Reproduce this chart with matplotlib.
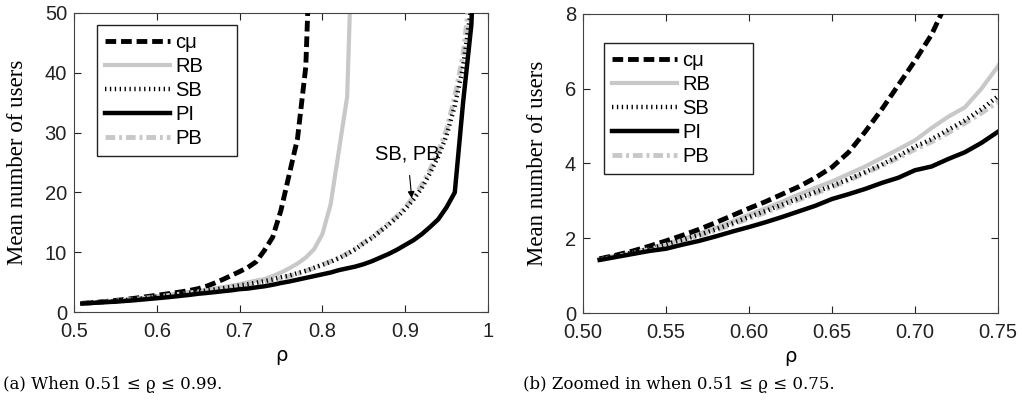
import numpy as np
import matplotlib
matplotlib.use("Agg")
import matplotlib.pyplot as plt
from matplotlib.font_manager import FontProperties

# load values, one point per 0.01 of rho
rho_cmu = [0.51, 0.52, 0.53, 0.54, 0.55, 0.56, 0.57, 0.58, 0.59, 0.60, 0.61, 0.62, 0.63, 0.64,
           0.65, 0.66, 0.67, 0.68, 0.69, 0.70, 0.71, 0.72, 0.73, 0.74, 0.75, 0.76, 0.77, 0.78, 0.79]
cmu = [1.45, 1.55, 1.66, 1.79, 1.93, 2.08, 2.24, 2.42, 2.61, 2.80, 2.98, 3.18, 3.38, 3.62,
       3.90, 4.30, 4.85, 5.45, 6.10, 6.75, 7.45, 8.4, 10.3, 12.5, 17.0, 23.0, 29.0, 41.0, 80.0]

rho_rb = [0.51, 0.52, 0.53, 0.54, 0.55, 0.56, 0.57, 0.58, 0.59, 0.60, 0.61, 0.62, 0.63, 0.64,
          0.65, 0.66, 0.67, 0.68, 0.69, 0.70, 0.71, 0.72, 0.73, 0.74, 0.75, 0.76, 0.77, 0.78,
          0.79, 0.80, 0.81, 0.82, 0.83, 0.84]
rb = [1.45, 1.53, 1.62, 1.73, 1.85, 1.98, 2.12, 2.28, 2.45, 2.63, 2.80, 2.98, 3.17, 3.35,
      3.52, 3.72, 3.92, 4.15, 4.38, 4.62, 4.95, 5.25, 5.5, 6.0, 6.6, 7.3, 8.1, 9.1,
      10.5, 13.0, 18.0, 27.0, 36.0, 80.0]

rho_all = [0.51, 0.52, 0.53, 0.54, 0.55, 0.56, 0.57, 0.58, 0.59, 0.60, 0.61, 0.62, 0.63, 0.64,
           0.65, 0.66, 0.67, 0.68, 0.69, 0.70, 0.71, 0.72, 0.73, 0.74, 0.75, 0.76, 0.77, 0.78,
           0.79, 0.80, 0.81, 0.82, 0.83, 0.84, 0.85, 0.86, 0.87, 0.88, 0.89, 0.90, 0.91, 0.92,
           0.93, 0.94, 0.95, 0.96, 0.97, 0.98, 0.99]
sb = [1.45, 1.53, 1.62, 1.72, 1.84, 1.96, 2.09, 2.24, 2.40, 2.57, 2.73, 2.90, 3.07, 3.24,
      3.40, 3.58, 3.77, 3.97, 4.20, 4.45, 4.65, 4.9, 5.15, 5.45, 5.8, 6.1, 6.5, 6.9,
      7.4, 7.9, 8.4, 9.0, 9.7, 10.5, 11.5, 12.4, 13.5, 14.6, 15.8, 17.2, 18.8, 20.7,
      23.2, 26.0, 29.5, 34.5, 41.0, 51.0, 70.0]
pi = [1.42, 1.50, 1.58, 1.66, 1.72, 1.83, 1.93, 2.05, 2.18, 2.30, 2.43, 2.57, 2.72, 2.87,
      3.05, 3.18, 3.32, 3.48, 3.62, 3.82, 3.92, 4.12, 4.3, 4.55, 4.85, 5.1, 5.4, 5.7,
      6.0, 6.3, 6.6, 7.0, 7.3, 7.6, 8.0, 8.5, 9.1, 9.7, 10.4, 11.2, 12.0, 13.0,
      14.2, 15.5, 17.5, 20.0, 35.0, 48.0, 80.0]
pb = [1.42, 1.51, 1.60, 1.70, 1.82, 1.94, 2.07, 2.21, 2.37, 2.53, 2.69, 2.86, 3.03, 3.20,
      3.37, 3.55, 3.74, 3.94, 4.15, 4.38, 4.58, 4.82, 5.08, 5.35, 5.65, 6.0, 6.4, 6.85,
      7.35, 7.9, 8.45, 9.05, 9.75, 10.6, 11.6, 12.5, 13.6, 14.8, 16.0, 17.5, 19.2, 21.2,
      23.8, 26.8, 30.5, 36.0, 43.0, 55.0, 75.0]

ticks_a = [0.5, 0.6, 0.7, 0.8, 0.9, 1.0]
ticklabels_a = ["0.5", "0.6", "0.7", "0.8", "0.9", "1"]
ticks_b = [0.50, 0.55, 0.60, 0.65, 0.70, 0.75]
ticklabels_b = ["0.50", "0.55", "0.60", "0.65", "0.70", "0.75"]

LIGHT = "#c8c8c8"
sans = FontProperties(family=["Liberation Sans", "DejaVu Sans"], size=14.5)
serif = FontProperties(family=["Liberation Serif", "DejaVu Serif"], size=16.5)
caption = FontProperties(family=["DejaVu Serif"], size=12)


def draw(ax, xlim, ylim, xticks, xticklabels, yticks, legend_box):
    ax.plot(rho_cmu, cmu, color="black", lw=3.5, dashes=(2.2, 1.0), label="c\u03bc", zorder=3)
    ax.plot(rho_rb, rb, color=LIGHT, lw=3.0, label="RB", zorder=2)
    ax.plot(rho_all, sb, color="black", lw=3.2, dashes=(0.3, 0.8), label="SB", zorder=5)
    ax.plot(rho_all, pi, color="black", lw=3.2, label="PI", zorder=4)
    ax.plot(rho_all, pb, color=LIGHT, lw=3.5, dashes=(2.0, 0.8, 0.6, 0.8), label="PB", zorder=3)

    ax.set_xlim(*xlim)
    ax.set_ylim(*ylim)
    ax.set_xticks(xticks)
    ax.set_xticklabels(xticklabels, fontproperties=sans)
    ax.set_yticks(yticks)
    ax.set_yticklabels([str(v) for v in yticks], fontproperties=sans)
    ax.tick_params(direction="in", top=True, right=True, length=5, colors="#222222")
    ax.tick_params(axis="y", pad=5)
    ax.tick_params(axis="x", pad=7)
    for s in ax.spines.values():
        s.set_color("#444444")
        s.set_linewidth(0.8)

    ax.set_xlabel("\u03c1", fontproperties=FontProperties(family="DejaVu Sans", size=14),
                  labelpad=4)
    ax.set_ylabel("Mean number of users", fontproperties=serif, labelpad=12)

    leg = ax.legend(loc="upper left", bbox_to_anchor=legend_box, mode="expand",
                    prop=sans, handlelength=3.2, labelspacing=0.25, borderpad=0.4,
                    handletextpad=0.3, borderaxespad=0, fancybox=False, framealpha=1)
    leg.get_frame().set_edgecolor("#222222")
    leg.get_frame().set_linewidth(1.0)


fig = plt.figure(figsize=(10.22, 4.03), dpi=100)
ax1 = fig.add_axes([0.0724, 0.2258, 0.405, 0.742])
ax2 = fig.add_axes([0.5705, 0.2233, 0.406, 0.742])

draw(ax1, (0.5, 1.0), (0, 50), ticks_a, ticklabels_a, [0, 10, 20, 30, 40, 50],
     (0.0556, 0.0, 0.338, 0.96))
draw(ax2, (0.5, 0.75), (0, 8), ticks_b, ticklabels_b, [0, 2, 4, 6, 8],
     (0.0506, 0.0, 0.359, 0.903))

ax1.annotate("SB, PB", xy=(0.908, 19.0), xytext=(0.903, 26.5), fontproperties=sans,
             ha="center", va="center",
             arrowprops=dict(arrowstyle="-|>", color="black", lw=0.8,
                             shrinkA=7, shrinkB=0, mutation_scale=10))

fig.text(0.003, 0.045, "(a) When 0.51 \u2264 \u03f1 \u2264 0.99.", fontproperties=caption,
         ha="left", va="center")
fig.text(0.512, 0.045, "(b) Zoomed in when 0.51 \u2264 \u03f1 \u2264 0.75.",
         fontproperties=caption, ha="left", va="center")

fig.savefig("out.png", dpi=100)
